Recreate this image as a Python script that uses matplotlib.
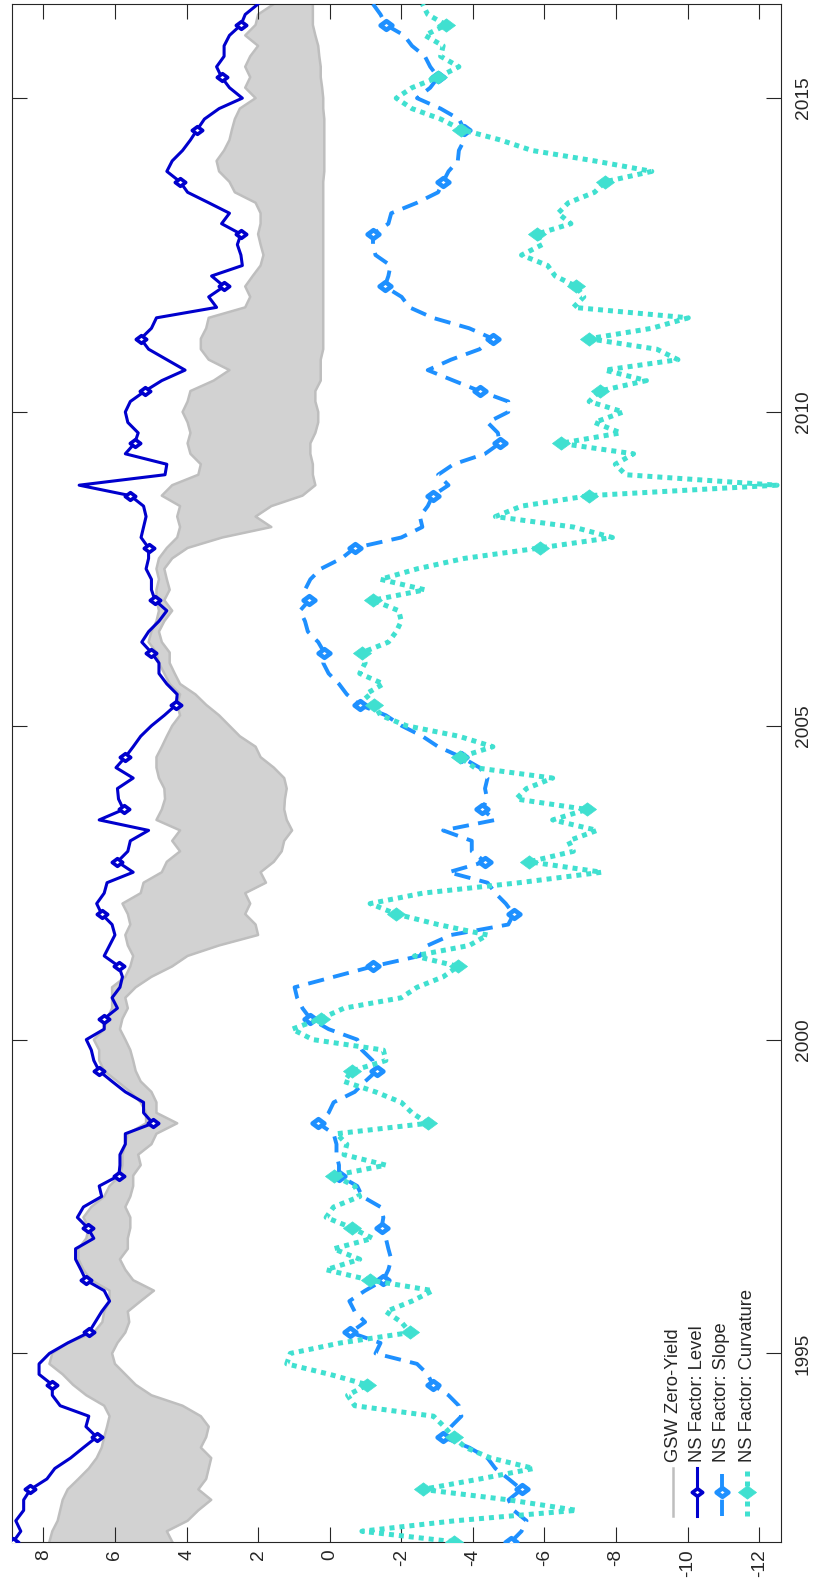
import numpy as np
import matplotlib
matplotlib.use("Agg")
import matplotlib.pyplot as plt
from matplotlib.path import Path

plt.rcParams['font.family'] = ['Liberation Sans', 'DejaVu Sans']
plt.rcParams['axes.unicode_minus'] = False

# ---------------- data (bimonthly, Jan 1992 .. Jul 2016) ----------------
start_year = 1992.0
months_per_step = 2

level = [8.84, 8.63, 8.77, 8.55, 8.55, 8.36, 7.90, 7.68, 7.24, 6.88, 6.51,
         6.81, 6.73, 7.53, 7.75, 7.75, 8.12, 8.12, 7.83, 7.32, 6.73, 6.55,
         6.37, 6.15, 6.30, 6.81, 6.95, 7.10, 7.10, 6.59, 6.76, 7.05, 6.88,
         6.37, 6.44, 5.89, 5.86, 5.86, 5.71, 5.71, 4.94, 5.20, 5.20, 5.71,
         6.08, 6.44, 6.59, 6.66, 6.80, 6.30, 6.30, 5.93, 6.08, 5.86, 5.79,
         5.89, 6.30, 6.15, 6.00, 6.08, 6.37, 6.51, 6.30, 6.22, 5.49, 5.93,
         5.64, 5.57, 5.06, 6.44, 5.76, 5.90, 5.93, 5.49, 5.97, 5.71, 5.49,
         5.28, 4.98, 4.62, 4.29, 4.26, 4.55, 4.77, 4.77, 4.98, 5.25, 5.06,
         4.77, 4.55, 4.88, 4.98, 4.98, 5.13, 5.06, 5.06, 5.27, 5.20, 5.13,
         5.20, 5.57, 7.00, 4.60, 4.55, 5.71, 5.45, 5.35, 5.64, 5.71, 5.57,
         5.16, 4.69, 4.04, 4.55, 5.06, 5.28, 4.98, 4.84, 3.16, 3.38, 2.95,
         3.30, 2.44, 2.48, 2.58, 2.48, 3.02, 2.80, 3.38, 3.97, 4.18, 4.55,
         4.40, 4.11, 3.89, 3.70, 3.50, 3.09, 2.44, 2.80, 3.02, 3.16, 2.95,
         2.95, 2.80, 2.48, 2.36, 2.00]

slope = [-5.07, -5.36, -5.50, -5.14, -5.00, -5.36, -5.00, -4.63, -4.41, -3.90, -3.17,
         -3.39, -3.68, -3.61, -3.32, -2.88, -2.74, -2.44, -1.28, -1.42, -0.58, -0.99,
         -0.70, -0.55, -0.99, -1.50, -1.64, -1.72, -1.64, -1.57, -1.45, -1.50, -1.42,
         -0.91, -0.77, -0.26, -0.26, -0.19, -0.19, -0.11, 0.32, 0.03, -0.11, -0.70,
         -0.99, -1.31, -1.20, -0.90, -0.77, 0.03, 0.54, 0.76, 0.91, 0.98, -0.11,
         -1.21, -2.52, -2.74, -3.39, -4.99, -5.14, -4.92, -4.63, -4.41, -3.32, -4.34,
         -3.97, -3.97, -3.17, -4.63, -4.26, -4.40, -4.34, -4.41, -4.19, -3.68, -3.03,
         -2.59, -2.01, -1.57, -0.84, -0.48, -0.26, 0.03, 0.18, 0.15, 0.32, 0.61,
         0.69, 0.83, 0.57, 0.69, 0.54, 0.25, -0.33, -0.70, -2.00, -2.59, -2.52,
         -2.74, -2.88, -3.32, -3.03, -3.46, -4.34, -4.75, -4.70, -4.41, -4.99, -4.99,
         -4.19, -3.46, -2.74, -3.39, -4.19, -4.56, -3.90, -2.88, -2.23, -2.01, -1.54,
         -1.64, -1.70, -1.28, -1.21, -1.21, -1.64, -1.72, -2.44, -3.03, -3.17, -3.32,
         -3.58, -3.61, -3.76, -3.76, -3.61, -3.10, -2.44, -2.81, -3.03, -2.81, -2.66,
         -2.30, -2.08, -1.57, -1.42, -1.21]

curvature = [-3.46, -0.90, -3.50, -6.90, -5.00, -2.60, -4.20, -5.70, -4.50, -3.80, -3.46,
             -3.20, -2.90, -0.70, -0.50, -1.05, 0.00, 1.20, 1.10, -0.30, -2.25, -2.00,
             -1.57, -2.30, -2.88, -1.13, 0.10, -0.84, -0.11, -1.20, -0.62, 0.10, -0.11,
             -0.84, -0.70, -0.11, -1.57, -0.40, -0.48, -0.19, -2.74, -2.30, -2.00, -1.28,
             -0.40, -0.62, -1.57, -1.50, 0.47, 1.05, 0.25, -0.40, -2.00, -2.44, -3.17,
             -3.58, -2.37, -3.90, -4.41, -3.03, -1.86, -1.13, -2.60, -5.30, -7.60, -5.58,
             -6.81, -6.67, -7.47, -6.23, -7.18, -5.21, -5.50, -6.23, -4.05, -3.64, -4.56,
             -3.61, -2.15, -1.42, -1.25, -0.99, -1.50, -0.84, -0.99, -0.91, -1.64, -1.86,
             -2.00, -1.93, -1.21, -2.66, -1.42, -2.44, -3.76, -5.87, -7.90, -6.81, -4.63,
             -5.36, -7.25, -12.50, -8.27, -7.98, -8.49, -6.45, -8.13, -7.40, -8.20, -7.25,
             -7.54, -8.85, -7.69, -9.73, -9.14, -7.25, -9.00, -10.02, -6.81, -7.10, -6.89,
             -6.30, -6.09, -5.36, -5.94, -5.79, -6.74, -6.38, -6.67, -7.40, -7.69, -9.00,
             -7.40, -5.65, -4.77, -3.68, -3.10, -2.30, -1.86, -2.30, -3.03, -3.61, -3.10,
             -3.17, -2.66, -3.25, -2.74, -2.59]

# GSW zero-coupon yields: highest (long maturity) and lowest (short maturity) edge
gsw_long = [7.83, 7.75, 7.60, 7.53, 7.46, 7.32, 7.02, 6.73, 6.51, 6.37, 6.30,
            6.22, 6.15, 6.30, 6.80, 7.17, 7.46, 7.83, 7.75, 7.32, 6.59, 6.35,
            6.30, 6.15, 6.15, 6.66, 6.88, 7.02, 7.02, 6.80, 6.73, 6.88, 6.66,
            6.30, 6.15, 5.86, 5.79, 5.79, 5.71, 5.64, 5.13, 5.13, 5.28, 5.57,
            5.93, 6.30, 6.44, 6.44, 6.59, 6.30, 6.22, 6.08, 6.08, 6.08, 5.71,
            5.57, 5.49, 5.64, 5.71, 5.57, 5.64, 5.79, 5.28, 5.20, 4.69, 4.55,
            4.18, 4.40, 4.18, 4.84, 4.69, 4.60, 4.62, 4.77, 4.84, 4.84, 4.69,
            4.55, 4.40, 4.18, 4.26, 4.18, 4.47, 4.62, 4.77, 4.84, 5.06, 4.98,
            4.84, 4.77, 4.84, 4.84, 4.77, 4.84, 4.77, 4.55, 4.26, 4.18, 4.26,
            4.18, 4.69, 4.40, 3.67, 3.60, 3.89, 3.97, 3.89, 3.97, 4.11, 3.97,
            3.89, 3.24, 2.80, 3.38, 3.60, 3.60, 3.45, 3.38, 2.36, 2.22, 2.36,
            2.15, 1.93, 1.85, 1.93, 2.00, 1.93, 1.93, 2.07, 2.65, 2.80, 3.09,
            3.16, 2.95, 2.80, 2.73, 2.65, 2.51, 2.07, 2.36, 2.22, 2.36, 2.22,
            2.00, 2.36, 2.07, 2.00, 1.56]

gsw_short = [4.40, 4.55, 3.97, 3.67, 3.31, 3.67, 3.45, 3.38, 3.31, 3.60, 3.45,
             3.38, 3.60, 4.11, 4.98, 5.42, 5.71, 6.00, 6.08, 5.93, 5.71, 5.60,
             5.64, 5.28, 4.91, 5.49, 5.71, 5.86, 5.64, 5.64, 5.57, 5.57, 5.71,
             5.57, 5.49, 5.49, 5.28, 5.35, 4.98, 4.84, 4.26, 4.84, 4.84, 4.98,
             5.28, 5.42, 5.49, 5.57, 5.71, 5.86, 5.79, 5.64, 5.71, 5.42, 4.98,
             4.40, 3.97, 3.09, 2.00, 2.07, 2.36, 2.22, 2.36, 1.78, 1.93, 1.56,
             1.34, 1.27, 1.05, 1.20, 1.27, 1.25, 1.20, 1.27, 1.56, 1.93, 2.07,
             2.51, 2.80, 3.09, 3.45, 3.75, 4.18, 4.33, 4.47, 4.47, 4.69, 4.77,
             4.62, 4.40, 4.62, 4.47, 4.55, 4.62, 4.40, 3.97, 3.00, 1.63, 2.07,
             1.63, 0.76, 0.40, 0.47, 0.47, 0.54, 0.54, 0.40, 0.32, 0.32, 0.40,
             0.40, 0.25, 0.25, 0.25, 0.18, 0.18, 0.18, 0.18, 0.18, 0.18, 0.18,
             0.18, 0.18, 0.18, 0.18, 0.18, 0.18, 0.18, 0.18, 0.18, 0.18, 0.15,
             0.15, 0.15, 0.15, 0.15, 0.15, 0.18, 0.18, 0.21, 0.25, 0.25, 0.29,
             0.32, 0.40, 0.47, 0.47, 0.47]

value_ticks = [-12, -10, -8, -6, -4, -2, 0, 2, 4, 6, 8]
year_ticks = [1995, 2000, 2005, 2010, 2015]
year_labels = ['1995', '2000', '2005', '2010', '2015']
legend_labels = ['GSW Zero-Yield', 'NS Factor: Level', 'NS Factor: Slope',
                 'NS Factor: Curvature']

dates = start_year + np.arange(len(level)) * months_per_step / 12.0

# ---------------- styles ----------------
C_GSW_FILL = '#d2d2d2'
C_GSW_LINE = '#bebebe'
C_LEVEL = '#0000cd'
C_SLOPE = '#1e90ff'
C_CURV = '#40e0d0'
C_AX = '#262626'
slope_ls = (0, (4.2, 2.4))
curv_ls = (0, (1, 1))

# diamond a little wider than tall (as in the picture)
DIAM = Path([(-1, 0), (0, 0.74), (1, 0), (0, -0.74), (-1, 0)],
            [Path.MOVETO, Path.LINETO, Path.LINETO, Path.LINETO, Path.CLOSEPOLY])

LEVEL_STYLE = dict(color=C_LEVEL, lw=2.2, ls='-')
SLOPE_STYLE = dict(color=C_SLOPE, lw=2.8, ls=slope_ls)
CURV_STYLE = dict(color=C_CURV, lw=3.6, ls=curv_ls)
LEVEL_MK = dict(marker=DIAM, ms=7.5, mfc='white', mec=C_LEVEL, mew=2.6)
SLOPE_MK = dict(marker=DIAM, ms=8.5, mfc='white', mec=C_SLOPE, mew=3.3)
CURV_MK = dict(marker=DIAM, ms=13, mfc=C_CURV, mec=C_CURV, mew=0.5)
GSW_STYLE = dict(color=C_GSW_LINE, lw=1.8, ls='-')

W, H = 817, 1587
fig = plt.figure(figsize=(W / 100, H / 100), dpi=100)
L_px, R_px, T_px, B_px = 11.5, 781.0, 4.0, 1541.7
ax = fig.add_axes([L_px / W, (H - B_px) / H, (R_px - L_px) / W, (B_px - T_px) / H])

ax.fill_betweenx(dates, gsw_short, gsw_long, color=C_GSW_FILL, lw=0, zorder=1)
ax.plot(gsw_long, dates, zorder=1.5, **GSW_STYLE)
ax.plot(gsw_short, dates, zorder=1.5, **GSW_STYLE)

ax.plot(level, dates, markevery=5, zorder=3, **LEVEL_STYLE, **LEVEL_MK)
ax.plot(slope, dates, markevery=5, zorder=3, **SLOPE_STYLE, **SLOPE_MK)
ax.plot(curvature, dates, markevery=5, zorder=3, **CURV_STYLE, **CURV_MK)

ax.set_xlim(8.89, -12.61)
ax.set_ylim(dates[0], dates[-1])
ax.set_xticks(value_ticks)
ax.set_yticks(year_ticks)
ax.set_yticklabels(year_labels)

ax.tick_params(axis='x', direction='in', length=10.8, width=0.8, top=True,
               bottom=True, labelbottom=True, labeltop=False, labelrotation=90,
               pad=5.5, labelsize=13.8, colors=C_AX)
ax.tick_params(axis='y', direction='in', length=10.8, width=0.8, left=True,
               right=True, labelleft=False, labelright=True, labelrotation=90,
               pad=10, labelsize=13.8, colors=C_AX)
for lbl in ax.get_yticklabels():
    lbl.set_va('center')
for sp in ax.spines.values():
    sp.set_color(C_AX)
    sp.set_linewidth(0.8)

# ---------------- legend (rotated, drawn by hand) ----------------
def fx(px):
    return (px - L_px) / (R_px - L_px)

def fy(py):
    return (B_px - py) / (B_px - T_px)

leg_x = [673, 697, 722, 747]
styles = [GSW_STYLE, LEVEL_STYLE, SLOPE_STYLE, CURV_STYLE]
marks = [None, LEVEL_MK, SLOPE_MK, CURV_MK]
for x, lab, st, mk in zip(leg_x, legend_labels, styles, marks):
    ax.plot([fx(x), fx(x)], [fy(1516), fy(1468)], transform=ax.transAxes,
            clip_on=False, zorder=5, **st)
    if mk is not None:
        ax.plot([fx(x)], [fy(1492)], transform=ax.transAxes, clip_on=False,
                zorder=6, ls='none', **mk)
    ax.text(fx(x), fy(1462), lab, rotation=90, ha='center', va='bottom',
            transform=ax.transAxes, fontsize=13.2, color=C_AX, zorder=6)

fig.savefig('out.png', dpi=100)
